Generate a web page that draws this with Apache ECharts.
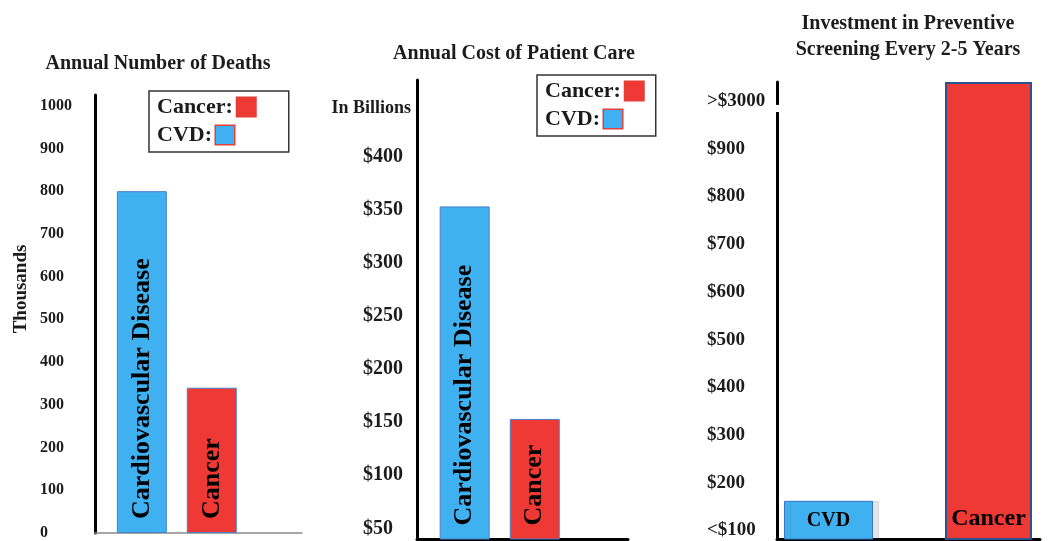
<!DOCTYPE html>
<html>
<head>
<meta charset="utf-8">
<script src="https://cdn.jsdelivr.net/npm/echarts@6/dist/echarts.min.js"></script>
<style>
  html, body { margin: 0; padding: 0; background: #fff; }
  #chart { width: 1058px; height: 541px; }
</style>
</head>
<body>
<div id="chart"></div>
<script>
// bar slots (1 = first bar, 2 = second bar)
const barSlots = [1, 2];

// panel 1: annual deaths (thousands)
const deathNames = ['Cardiovascular Disease', 'Cancer'];
const deathValues = [800, 340];
const deathTicks = [0, 100, 200, 300, 400, 500, 600, 700, 800, 900, 1000];

// panel 2: annual cost of care (billions)
const costNames = ['Cardiovascular Disease', 'Cancer'];
const costValues = [353, 153];
const costTicks = [50, 100, 150, 200, 250, 300, 350, 400];

// panel 3: screening investment, drawn on a broken axis (top tick stands for >$3000)
const screenNames = ['CVD', 'Cancer'];
const screenValues = [162, 1040];
const screenTicks = [100, 200, 300, 400, 500, 600, 700, 800, 900, 1000];
const screenTickLabels = ['<$100', '$200', '$300', '$400', '$500', '$600', '$700', '$800', '$900', '>$3000'];

const BLUE = '#3fb0f0';
const RED = '#ee3934';
const FONT = "'Liberation Serif', 'Times New Roman', serif";
const INK = '#1c1c1c';

const chart = echarts.init(document.getElementById('chart'));

function titleOf(text, left, top) {
  return {
    text: text,
    left: left,
    top: top,
    textAlign: 'center',
    textStyle: { fontFamily: FONT, fontWeight: 'bold', fontSize: 20, color: INK, lineHeight: 26 }
  };
}

// legend swatch sits right after the text, so it is drawn as rich text
const swatchKey = { Cancer: 'r', CVD: 'b' };

function legendAt(left, top, padRight) {
  return {
    orient: 'vertical',
    left: left,
    top: top,
    itemWidth: 0,
    itemHeight: 20,
    itemGap: 6,
    itemStyle: { opacity: 0, borderWidth: 0 },
    padding: [5, padRight, 6, 3],
    borderColor: '#333',
    borderWidth: 1.5,
    formatter: (n) => '{t|' + n + ':}{g|}{' + swatchKey[n] + '|}',
    textStyle: {
      fontFamily: FONT, fontWeight: 'bold', fontSize: 22, color: INK,
      rich: {
        t: { fontFamily: FONT, fontWeight: 'bold', fontSize: 22, color: INK },
        g: { width: 4 },
        r: { width: 19, height: 19, backgroundColor: RED, borderColor: '#e0403a', borderWidth: 1 },
        b: { width: 18, height: 18, backgroundColor: BLUE, borderColor: '#e0403a', borderWidth: 1.5 }
      }
    },
    data: ['Cancer', 'CVD']
  };
}

function xAxisOf(gridIndex, min, max, lineColor, lineWidth) {
  return {
    type: 'value',
    gridIndex: gridIndex,
    min: min,
    max: max,
    axisLine: { show: true, lineStyle: { color: lineColor, width: lineWidth } },
    axisTick: { show: false },
    axisLabel: { show: false },
    splitLine: { show: false }
  };
}

function rotatedLabel(names) {
  return {
    show: true,
    position: 'insideBottom',
    distance: 12,
    rotate: 90,
    align: 'left',
    verticalAlign: 'middle',
    offset: [2, 0],
    fontFamily: FONT,
    fontWeight: 'bold',
    fontSize: 26,
    color: '#000',
    formatter: (p) => names[p.dataIndex]
  };
}

function pairs(values) {
  return values.map((v, i) => [barSlots[i], v]);
}

function barSeries(name, idx, data, color, barWidth, label, extraStyle) {
  return {
    type: 'bar',
    name: name,
    xAxisIndex: idx,
    yAxisIndex: idx,
    barWidth: barWidth,
    barGap: '-100%',
    data: data,
    itemStyle: Object.assign({ color: color, borderColor: '#4a80c8', borderWidth: 1 }, extraStyle || {}),
    label: label,
    emphasis: { disabled: true }
  };
}

const deathPairs = pairs(deathValues);
const costPairs = pairs(costValues);
const screenPairs = pairs(screenValues);

const option = {
  animation: false,
  title: [
    titleOf('Annual Number of Deaths', 153, 46),
    titleOf('Annual Cost of Patient Care', 509, 36),
    titleOf('Investment in Preventive\nScreening Every 2-5 Years', 903, 6)
  ],
  legend: [legendAt(149, 91, 32), legendAt(537, 75, 11)],
  grid: [
    { left: 95, width: 207, top: 95, bottom: 2 },
    { left: 417, width: 211, top: 80, bottom: 2 },
    { left: 777, width: 263, top: 82, bottom: 2 }
  ],
  xAxis: [
    xAxisOf(0, 0.33, 3.29, '#8a8a8a', 1.5),
    xAxisOf(1, 0.32, 3.33, '#000', 3),
    xAxisOf(2, 0.686, 2.32, '#000', 3)
  ],
  yAxis: [
    {
      type: 'value', gridIndex: 0, min: 0, max: 1025,
      name: 'Thousands', nameLocation: 'middle', nameGap: 64,
      nameTextStyle: { fontFamily: FONT, fontWeight: 'bold', fontSize: 19, color: INK, padding: [0, 0, 0, 50] },
      axisLine: { show: true, lineStyle: { color: '#000', width: 3 } },
      axisTick: { show: false },
      splitLine: { show: false },
      axisLabel: {
        customValues: deathTicks, align: 'left', margin: 55,
        fontFamily: FONT, fontWeight: 'bold', fontSize: 16, color: INK,
        formatter: (v) => String(v)
      }
    },
    {
      type: 'value', gridIndex: 1, min: 40, max: 472,
      name: 'In Billions', nameLocation: 'end', nameGap: -28,
      nameTextStyle: { fontFamily: FONT, fontWeight: 'bold', fontSize: 18, color: INK, align: 'right', verticalAlign: 'middle', padding: [0, 6, 0, 0] },
      axisLine: { show: true, lineStyle: { color: '#000', width: 3 } },
      axisTick: { show: false },
      splitLine: { show: false },
      axisLabel: {
        customValues: costTicks, align: 'left', margin: 54,
        fontFamily: FONT, fontWeight: 'bold', fontSize: 20, color: INK,
        formatter: (v) => '$' + v
      }
    },
    {
      type: 'value', gridIndex: 2, min: 82, max: 1040,
      axisLine: { show: true, lineStyle: { color: '#000', width: 3 } },
      axisTick: { show: false },
      splitLine: { show: false },
      axisLabel: {
        customValues: screenTicks, align: 'left', margin: 70,
        fontFamily: FONT, fontWeight: 'bold', fontSize: 19, color: INK,
        formatter: (v) => screenTickLabels[screenTicks.indexOf(v)]
      }
    }
  ],
  series: [
    barSeries('CVD', 0, [deathPairs[0]], BLUE, 50, rotatedLabel(deathNames.slice(0, 1))),
    barSeries('Cancer', 0, [deathPairs[1]], RED, 50, rotatedLabel(deathNames.slice(1))),
    barSeries('CVD', 1, [costPairs[0]], BLUE, 50, rotatedLabel(costNames.slice(0, 1))),
    barSeries('Cancer', 1, [costPairs[1]], RED, 50, rotatedLabel(costNames.slice(1))),
    barSeries('CVD', 2, [screenPairs[0]], BLUE, 89, {
      show: true, position: 'insideBottom', distance: 9,
      fontFamily: FONT, fontWeight: 'bold', fontSize: 20, color: '#000',
      formatter: () => screenNames[0]
    }, { borderColor: '#3a78c0', shadowColor: 'rgba(80,90,110,0.15)', shadowOffsetX: 6, shadowBlur: 0 }),
    barSeries('Cancer', 2, [screenPairs[1]], RED, 87, {
      show: true, position: 'insideBottom', distance: 9,
      fontFamily: FONT, fontWeight: 'bold', fontSize: 24, color: '#000',
      formatter: () => screenNames[1]
    }, { borderColor: '#2f528f', borderWidth: 2 })
  ]
};

chart.setOption(option);

// gap in the third y axis to show the break between $900 and >$3000
const breakTop = chart.convertToPixel({ xAxisIndex: 2, yAxisIndex: 2 }, [0.686, 992]);
const breakBottom = chart.convertToPixel({ xAxisIndex: 2, yAxisIndex: 2 }, [0.686, 977]);
chart.setOption({
  graphic: [{
    type: 'rect',
    shape: { x: breakTop[0] - 4, y: breakTop[1], width: 8, height: breakBottom[1] - breakTop[1] },
    style: { fill: '#fff' },
    z: 100
  }]
});
</script>
</body>
</html>
